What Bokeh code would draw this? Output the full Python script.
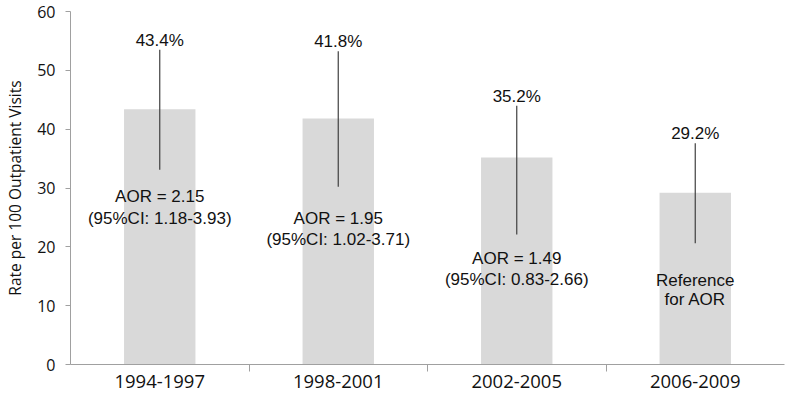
from bokeh.plotting import figure
from bokeh.models import ColumnDataSource, FixedTicker, Range1d
from bokeh.core.properties import value
from bokeh.embed import file_html
from bokeh.resources import INLINE

# ---- data ----
periods = ["1994-1997", "1998-2001", "2002-2005", "2006-2009"]
rates = [43.4, 41.8, 35.2, 29.2]
ci_low = [33.1, 30.2, 22.1, 20.6]
ci_high = [53.5, 53.25, 44.0, 37.6]
aor_line1 = ["AOR = 2.15", "AOR = 1.95", "AOR = 1.49", "Reference"]
aor_line2 = ["(95%CI: 1.18-3.93)", "(95%CI: 1.02-3.71)", "(95%CI: 0.83-2.66)", "for AOR"]
y_ticks = [0, 10, 20, 30, 40, 50, 60]

# ---- layout constants (annotation anchor heights, in axis units) ----
line1_y = [28.5, 24.9, 18.0, 14.2]
line2_y = [24.9, 21.2, 14.4, 11.1]

centers = [i + 0.5 for i in range(len(periods))]
bounds = [i for i in range(1, len(periods))]

src = ColumnDataSource(dict(
    x=centers, rate=rates, lo=ci_low, hi=ci_high,
    lab=[f"{r}%" for r in rates],
    t1=aor_line1, t2=aor_line2, y1=line1_y, y2=line2_y,
))

p = figure(width=786, height=396, output_backend="svg", toolbar_location=None,
           x_range=Range1d(0, len(periods)), y_range=Range1d(0, 60),
           min_border_left=70, min_border_right=2, min_border_top=11, min_border_bottom=32)
p.outline_line_color = None
p.xgrid.grid_line_color = None
p.ygrid.grid_line_color = None
p.background_fill_color = "white"
p.border_fill_color = "white"

p.vbar(x="x", top="rate", width=0.4, source=src, fill_color="#d9d9d9", line_color=None)
p.segment(x0="x", y0="lo", x1="x", y1="hi", source=src, line_color="#404040", line_width=1.2)

label_font = value("Liberation Sans")
p.text(x="x", y="hi", text="lab", source=src, text_align="center", text_baseline="bottom",
       text_font=label_font, text_font_size="17px", text_color="#111111")
p.text(x="x", y="y1", text="t1", source=src, text_align="center", text_baseline="middle",
       text_font=label_font, text_font_size="17px", text_color="#111111")
p.text(x="x", y="y2", text="t2", source=src, text_align="center", text_baseline="middle",
       text_font=label_font, text_font_size="17px", text_color="#111111")

# x axis: labels at centers, ticks at category boundaries
p.xaxis.ticker = FixedTicker(ticks=centers, minor_ticks=bounds)
p.xaxis.major_label_overrides = {c: t for c, t in zip(centers, periods)}
p.xaxis.major_tick_line_color = None
p.xaxis.major_tick_out = 0
p.xaxis.major_tick_in = 0
p.xaxis.minor_tick_out = 7
p.xaxis.minor_tick_in = 0
p.xaxis.minor_tick_line_color = "#a0a0a0"
p.xaxis.axis_line_color = "#a0a0a0"
p.xaxis.major_label_text_font = "Open Sans"
p.xaxis.major_label_text_font_size = "18.5px"
p.xaxis.major_label_text_color = "#111111"
p.xaxis.major_label_standoff = 3

# y axis
p.yaxis.ticker = FixedTicker(ticks=y_ticks)
p.yaxis.minor_tick_line_color = None
p.yaxis.major_tick_out = 5
p.yaxis.major_tick_in = 0
p.yaxis.major_tick_line_color = "#a0a0a0"
p.yaxis.axis_line_color = "#a0a0a0"
p.yaxis.major_label_text_font = "Open Sans"
p.yaxis.major_label_text_font_size = "16px"
p.yaxis.major_label_text_color = "#111111"
p.yaxis.major_label_standoff = 10
p.yaxis.axis_label = "Rate per 100 Outpatient Visits"
p.yaxis.axis_label_text_font = "Open Sans"
p.yaxis.axis_label_text_font_style = "normal"
p.yaxis.axis_label_text_font_size = "15.5px"
p.yaxis.axis_label_text_color = "#111111"
p.yaxis.axis_label_standoff = 8

open("out.html", "w").write(file_html(p, INLINE))
